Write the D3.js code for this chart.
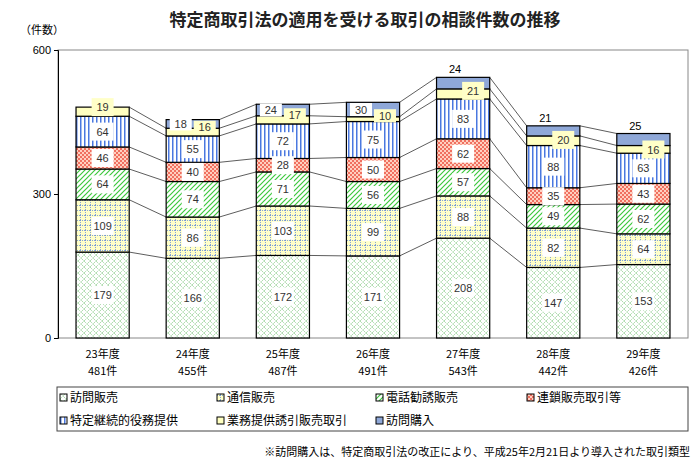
<!DOCTYPE html>
<html><head><meta charset="utf-8">
<script src="https://cdn.jsdelivr.net/npm/d3@7"></script>
<style>body{margin:0;background:#fff;font-family:"Noto Sans CJK JP",sans-serif;}</style>
</head><body><svg id="c" width="700" height="472"></svg>
<script>
const years = ["23年度", "24年度", "25年度", "26年度", "27年度", "28年度", "29年度"];
const totals = [481, 455, 487, 491, 543, 442, 426];
const seriesNames = ["訪問販売", "通信販売", "電話勧誘販売", "連鎖販売取引等", "特定継続的役務提供", "業務提供誘引販売取引", "訪問購入"];
const houmon = [179, 166, 172, 171, 208, 147, 153];
const tsushin = [109, 86, 103, 99, 88, 82, 64];
const denwa = [64, 74, 71, 56, 57, 49, 62];
const rensa = [46, 40, 28, 50, 62, 35, 43];
const keizoku = [64, 55, 72, 75, 83, 88, 63];
const gyomu = [19, 16, 17, 10, 21, 20, 16];
const kaitori = [0, 18, 24, 30, 24, 21, 25];
const yTicks = [0, 300, 600];

const allSeries = [houmon, tsushin, denwa, rensa, keizoku, gyomu, kaitori];
const svg = d3.select("#c");
const defs = svg.append("defs");

function pat(id, size, draw) {
  const p = defs.append("pattern").attr("id", id).attr("patternUnits", "userSpaceOnUse")
    .attr("width", size).attr("height", size);
  draw(p);
}
pat("p0", 6, p => {
  p.append("rect").attr("width", 6).attr("height", 6).attr("fill", "#fff");
  p.append("path").attr("d", "M0,3L3,0L6,3L3,6Z").attr("fill", "none").attr("stroke", "#5cb85c").attr("stroke-width", 0.7).attr("stroke-dasharray", "1,1");
});
pat("p1", 5, p => {
  p.append("rect").attr("width", 5).attr("height", 5).attr("fill", "#ffffc8");
  p.append("path").attr("d", "M0,0.5H5M0.5,0V5").attr("stroke", "#6a8fd8").attr("stroke-width", 0.8).attr("stroke-dasharray", "1,1");
});
pat("p2", 5, p => {
  p.append("rect").attr("width", 5).attr("height", 5).attr("fill", "#fff");
  p.append("path").attr("d", "M0,5L5,0M-1,1L1,-1M4,6L6,4").attr("stroke", "#3cc83c").attr("stroke-width", 1.2);
});
pat("p3", 4, p => {
  p.append("rect").attr("width", 4).attr("height", 4).attr("fill", "#ffd0c0");
  p.append("rect").attr("width", 2).attr("height", 2).attr("fill", "#f07060");
  p.append("rect").attr("x", 2).attr("y", 2).attr("width", 2).attr("height", 2).attr("fill", "#f07060");
});
pat("p4", 4, p => {
  p.append("rect").attr("width", 4).attr("height", 4).attr("fill", "#fff");
  p.append("rect").attr("width", 1.5).attr("height", 4).attr("fill", "#4a78e0");
});
const fills = ["url(#p0)", "url(#p1)", "url(#p2)", "url(#p3)", "url(#p4)", "#ffffc0", "#8fa8d8"];

const x = d3.scaleBand().domain(years).range([58, 688]).paddingInner(0.41).paddingOuter(0.2);
const y = d3.scaleLinear().domain([0, 600]).range([338, 50]);

// title
svg.append("text").attr("x", 365).attr("y", 26).attr("text-anchor", "middle")
  .attr("font-size", 17).attr("font-weight", "bold").attr("fill", "#222").text("特定商取引法の適用を受ける取引の相談件数の推移");
svg.append("text").attr("x", 20).attr("y", 34).attr("font-size", 11).text("（件数）");

// frame
svg.append("rect").attr("x", 58).attr("y", 50).attr("width", 630).attr("height", 288)
  .attr("fill", "none").attr("stroke", "#888");
const yAxis = svg.append("g").attr("transform", "translate(58,0)")
  .call(d3.axisLeft(y).tickValues(yTicks).tickSize(4));
yAxis.select(".domain").attr("stroke", "#000");
yAxis.selectAll("text").attr("font-size", 11).attr("font-family", "Liberation Sans, Arial");

// stacks
const stacked = years.map((yr, i) => {
  let c = 0;
  return allSeries.map((s, k) => { const y0 = c; c += s[i]; return {k, i, v: s[i], y0, y1: c}; });
});

// connector lines
for (let i = 0; i < years.length - 1; i++) {
  for (let k = 0; k < allSeries.length; k++) {
    const a = stacked[i][k], b = stacked[i + 1][k];
    if (a.v === 0 && k === 6) continue;
    svg.append("line").attr("x1", x(years[i]) + x.bandwidth()).attr("y1", y(a.y1))
      .attr("x2", x(years[i + 1])).attr("y2", y(b.y1)).attr("stroke", "#333").attr("stroke-width", 0.8);
  }
}

const g = svg.append("g");
stacked.forEach(col => {
  col.forEach(d => {
    if (d.v === 0) return;
    g.append("rect").attr("x", x(years[d.i])).attr("y", y(d.y1)).attr("width", x.bandwidth())
      .attr("height", y(d.y0) - y(d.y1)).attr("fill", fills[d.k]).attr("stroke", "#000").attr("stroke-width", 1.2);
  });
});

// labels
stacked.forEach(col => {
  col.forEach(d => {
    if (d.v === 0) return;
    const cx = x(years[d.i]) + x.bandwidth() / 2;
    let cy = y((d.y0 + d.y1) / 2);
    let lx = cx, w = 22, h = 18;
    if (d.k === 6) {
      if (d.i >= 4) {
        svg.append("text").attr("x", cx - 8).attr("y", y(d.y1) - 4).attr("text-anchor", "middle")
          .attr("font-size", 11).attr("font-family", "Liberation Sans, Arial").text(d.v);
        return;
      }
      lx = cx - 12; h = 13;
    }
    if (d.k === 5) {
      if (d.i >= 4) { lx = cx + 10; cy = y(d.y1) + (d.i === 4 ? 2 : 4); }
      else if (d.i === 0) { cy = y(d.y1); }
      else { lx = cx + 12; h = 13; cy = y(d.y1) - 1; }
    }
    svg.append("rect").attr("x", lx - w / 2).attr("y", cy - h / 2).attr("width", w).attr("height", h)
      .attr("fill", d.k === 5 ? "#ffffc8" : "#fff");
    svg.append("text").attr("x", lx).attr("y", cy + 4).attr("text-anchor", "middle")
      .attr("font-size", 11).attr("font-family", "Liberation Sans, Arial").attr("fill", "#333").text(d.v);
  });
});

// category labels
years.forEach((yr, i) => {
  const cx = x(yr) + x.bandwidth() / 2;
  svg.append("text").attr("x", cx).attr("y", 358).attr("text-anchor", "middle").attr("font-size", 11).text(yr);
  svg.append("text").attr("x", cx).attr("y", 375).attr("text-anchor", "middle").attr("font-size", 11).text(totals[i] + "件");
});

// legend
svg.append("rect").attr("x", 57).attr("y", 387).attr("width", 631).attr("height", 44).attr("fill", "none").attr("stroke", "#444");
const legX = [60, 217, 376, 527];
seriesNames.forEach((n, k) => {
  const lx = legX[k % 4];
  const ly = k < 4 ? 397 : 420;
  svg.append("rect").attr("x", lx).attr("y", ly - 3).attr("width", 7).attr("height", 7)
    .attr("fill", fills[k]).attr("stroke", "#000");
  svg.append("text").attr("x", lx + 10).attr("y", ly + 5).attr("font-size", 12).text(n);
});

svg.append("text").attr("x", 690).attr("y", 456).attr("text-anchor", "end").attr("font-size", 11)
  .text("※訪問購入は、特定商取引法の改正により、平成25年2月21日より導入された取引類型");
</script></body></html>
